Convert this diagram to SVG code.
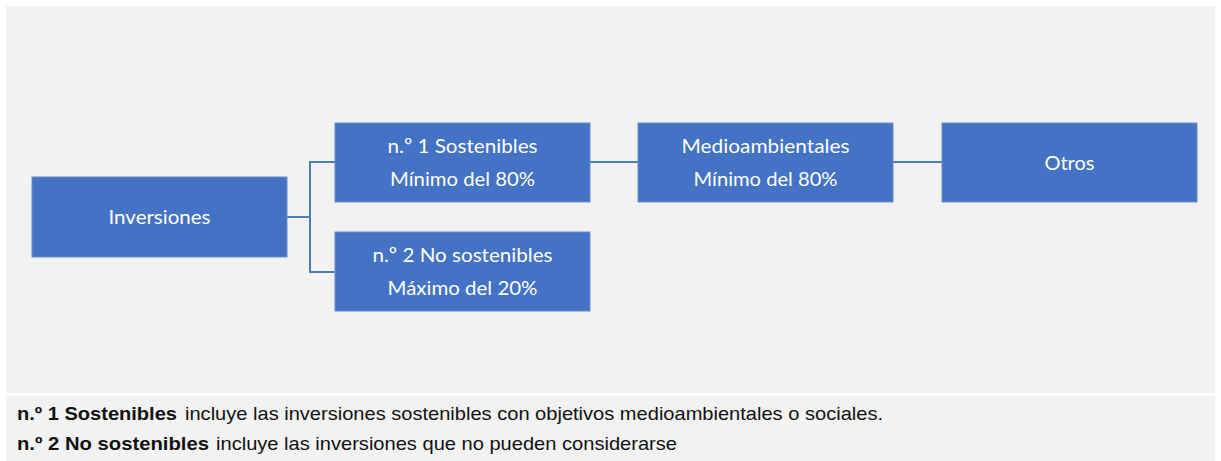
<svg xmlns="http://www.w3.org/2000/svg" width="1221" height="461" viewBox="0 0 1221 461">
<style>
.panel{fill:#F2F2F2}
.box{fill:#4472C4;stroke:#6A8ED0;stroke-width:1}
.bt{font-family:Lato,"Noto Sans",sans-serif;font-size:20px;fill:#FFFFFF;text-anchor:middle}
.conn{fill:none;stroke:#4A7EBB;stroke-width:2}
.nb{font-family:"Liberation Sans",Arial,sans-serif;font-size:18.5px;font-weight:bold;fill:#111111}
.nr{font-family:"Liberation Sans",Arial,sans-serif;font-size:18.5px;fill:#111111}
</style>
<rect x="0" y="0" width="1221" height="461" fill="#FFFFFF"/>
<rect class="panel" x="6" y="6" width="1209" height="387"/>
<rect class="panel" x="6" y="396" width="1209" height="65"/>
<g id="connectors">
<polyline class="conn" points="287,217 310,217"/>
<polyline class="conn" points="335,162 310,162 310,272 335,272"/>
<line class="conn" x1="590" y1="162" x2="638" y2="162"/>
<line class="conn" x1="893" y1="162" x2="942" y2="162"/>
</g>
<g id="inversiones">
<rect class="box" x="32" y="177" width="255" height="80"/>
<text class="bt" x="159.5" y="224.3" textLength="102" lengthAdjust="spacingAndGlyphs">Inversiones</text>
</g>
<g id="sostenibles">
<rect class="box" x="335" y="123" width="255" height="79"/>
<text class="bt" x="462.5" y="153.3" textLength="150" lengthAdjust="spacingAndGlyphs">n.º 1 Sostenibles</text>
<text class="bt" x="462.5" y="186" textLength="145" lengthAdjust="spacingAndGlyphs">Mínimo del 80%</text>
</g>
<g id="no-sostenibles">
<rect class="box" x="335" y="232" width="255" height="79"/>
<text class="bt" x="462.5" y="262" textLength="180" lengthAdjust="spacingAndGlyphs">n.º 2 No sostenibles</text>
<text class="bt" x="462.5" y="295" textLength="150" lengthAdjust="spacingAndGlyphs">Máximo del 20%</text>
</g>
<g id="medioambientales">
<rect class="box" x="638" y="123" width="255" height="79"/>
<text class="bt" x="765.5" y="153.3" textLength="168" lengthAdjust="spacingAndGlyphs">Medioambientales</text>
<text class="bt" x="765.5" y="186" textLength="144" lengthAdjust="spacingAndGlyphs">Mínimo del 80%</text>
</g>
<g id="otros">
<rect class="box" x="942" y="123" width="255" height="79"/>
<text class="bt" x="1069.5" y="169.5">Otros</text>
</g>
<g id="notes">
<text class="nb" x="17" y="420" textLength="160" lengthAdjust="spacingAndGlyphs">n.º 1 Sostenibles</text>
<text class="nr" x="185" y="420" textLength="698" lengthAdjust="spacingAndGlyphs">incluye las inversiones sostenibles con objetivos medioambientales o sociales.</text>
<text class="nb" x="17" y="450" textLength="192" lengthAdjust="spacingAndGlyphs">n.º 2 No sostenibles</text>
<text class="nr" x="216" y="450" textLength="461" lengthAdjust="spacingAndGlyphs">incluye las inversiones que no pueden considerarse</text>
</g>
</svg>
